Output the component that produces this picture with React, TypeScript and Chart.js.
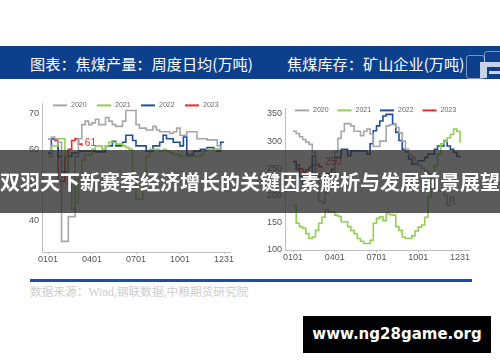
import React, { useEffect, useRef } from "react";
import { Chart, registerables } from "chart.js";
Chart.register(...registerables);

const YEARS = ["2020", "2021", "2022", "2023"];
const COLORS = ["#a6a6a6", "#92d050", "#1f4e9c", "#f02828"];
const X_TICKS = [0, 13, 26, 39, 52];
const X_LABELS = ["0101", "0401", "0701", "1001", "1231"];

// 焦煤产量：周度日均(万吨)
const LEFT_2020 = [63, 63.5, 63, 62, 34, 34, 41, 41, 58, 63, 67, 68, 67, 67.5, 68.5, 67, 67, 69, 68, 67, 66.5, 66.5, 68, 71, 71, 71, 67, 66, 66, 65.5, 65.5, 66.5, 65.5, 65, 65, 65, 64.5, 65, 66, 64, 64, 65, 65, 65, 63, 63, 63, 62.7, 62.7, 62.7, 61, 60];
const LEFT_2021 = [58, 61, 61, 63, 63, 58, 50, 43, 45, 52, 57, 58.5, 58.5, 60, 61, 61, 60, 61, 62, 62, 61.5, 61.5, 61, 60.5, 60, 52, 46, 46, 50, 58, 60, 60, 60, 59.5, 60, 59.5, 59, 58.5, 58.5, 58, 58, 58, 58, 58, 58, 58.5, 59.5, 60, 60, 60, 60, 60];
const LEFT_2022 = [59, 63, 63, 58, 53.5, 53.5, 58, 59, 59, 59.5, 59.5, 59.5, 59.5, 59.5, 59.3, 59.3, 59.3, 61, 61, 62.3, 61, 61, 62, 64, 64, 62.5, 61, 61, 61, 59.5, 59.5, 61, 61, 62, 64, 63, 63, 62, 62, 61, 63.5, 58.5, 58.5, 59.5, 59.5, 60, 60, 60.5, 60.5, 60, 59.5, 62, 62];
const LEFT_2023 = [63, 63, 62.5, 51, 51, 58, 60, 62.5, 63, 61.5, 61];
const LEFT_Y_TICKS = [40, 50, 60, 70];
const LEFT_LAST = "61";

// 焦煤库存：矿山企业(万吨)
const RIGHT_2020 = [318, 314, 308, 303, 298, 294, 280, 230, 190, 186, 205, 215, 240, 280, 305, 318, 332, 332, 328, 318, 318, 310, 318, 322, 313, 290, 290, 300, 300, 328, 330, 330, 325, 315, 300, 285, 275, 270, 262, 255, 250, 245, 240, 234, 215, 209, 209, 200, 182, 197, 185, 185];
const RIGHT_2021 = [182, 149, 143, 140, 130, 121, 124, 136, 149, 160, 174, 170, 170, 164, 162, 152, 152, 143, 136, 130, 121, 116, 112, 112, 118, 149, 158, 161, 154, 167, 165, 164, 143, 136, 124, 121, 121, 126, 135, 142, 146, 160, 197, 234, 255, 276, 295, 300, 306, 312, 322, 318, 297];
const RIGHT_2022 = [262, 248, 235, 215, 215, 240, 273, 240, 234, 234, 240, 240, 248, 270, 270, 285, 285, 273, 282, 282, 282, 282, 282, 276, 295, 319, 328, 337, 346, 349, 349, 331, 316, 301, 285, 280, 267, 258, 258, 264, 264, 270, 276, 276, 285, 291, 291, 301, 291, 285, 279, 272, 270];
const RIGHT_2023 = [263, 256, 249, 243, 247, 252, 256, 258, 253, 250];
const RIGHT_Y_TICKS = [100, 150, 200, 250, 300, 350];
const RIGHT_LAST = "250";

const NARROW = '"Liberation Sans Narrow", "Arial Narrow", Arial, sans-serif';
const CJK = '"Noto Sans CJK SC", "Noto Sans", sans-serif';

const inlineLegend = {
  id: "inlineLegend",
  afterDraw(chart: any, _a: any, opts: any) {
    const { ctx, chartArea } = chart;
    const ds = chart.data.datasets;
    let x = chartArea.left + opts.offset;
    const y = chartArea.top + opts.dy;
    ctx.save();
    ds.forEach((d: any) => {
      ctx.strokeStyle = d.borderColor;
      ctx.lineWidth = 2;
      ctx.beginPath();
      ctx.moveTo(x, y);
      ctx.lineTo(x + 14, y);
      ctx.stroke();
      ctx.fillStyle = "#666";
      ctx.font = "7px " + NARROW;
      ctx.textBaseline = "middle";
      ctx.textAlign = "left";
      ctx.fillText(d.label, x + 18, y);
      x += opts.step;
    });
    ctx.restore();
  },
};

const lastLabel = {
  id: "lastLabel",
  afterDatasetsDraw(chart: any, _a: any, opts: any) {
    const meta = chart.getDatasetMeta(3);
    const pts = meta.data;
    if (!pts.length) return;
    const p = pts[pts.length - 1];
    const { ctx } = chart;
    ctx.save();
    ctx.fillStyle = COLORS[3];
    ctx.font = "10px " + NARROW;
    ctx.textBaseline = "middle";
    ctx.textAlign = "left";
    ctx.fillText(opts.text, p.x + opts.dx, p.y + opts.dy);
    ctx.restore();
  },
};

type CP = {
  series: number[][];
  left: number; top: number; width: number; height: number;
  padTop: number; yWidth: number;
  xMin: number; xMax: number; yMin: number; yMax: number; yTicks: number[];
  legendOffset: number; legendStep: number;
  label: string; labelDx: number; labelDy: number;
};

function LineChart(p: CP) {
  const ref = useRef<HTMLCanvasElement>(null);
  useEffect(() => {
    const chart = new Chart(ref.current as HTMLCanvasElement, {
      type: "line",
      data: {
        datasets: p.series.map((arr, k) => ({
          label: YEARS[k],
          data: arr.map((v, i) => ({ x: i, y: v })),
          borderColor: COLORS[k],
          backgroundColor: COLORS[k],
          borderWidth: 1.6,
          pointRadius: 0,
          stepped: true,
          fill: false,
        })),
      },
      options: {
        animation: false,
        responsive: false,
        layout: { padding: { top: p.padTop, right: 6, left: 0, bottom: 0 } },
        plugins: {
          legend: { display: false },
          tooltip: { enabled: false },
          inlineLegend: { offset: p.legendOffset, step: p.legendStep, dy: 2 },
          lastLabel: { text: p.label, dx: p.labelDx, dy: p.labelDy },
        } as any,
        scales: {
          x: {
            type: "linear",
            min: p.xMin,
            max: p.xMax,
            afterBuildTicks: (s: any) => { s.ticks = X_TICKS.map((v) => ({ value: v })); },
            afterFit: (s: any) => { s.height = 15; },
            ticks: {
              autoSkip: false,
              maxRotation: 0,
              padding: 0,
              color: "#555",
              font: { size: 9, family: NARROW },
              callback: (v: any) => X_LABELS[X_TICKS.indexOf(Number(v))] ?? "",
            },
            grid: { display: true, drawOnChartArea: false, tickLength: 2, color: "#bfbfbf" },
            border: { display: true, color: "#bfbfbf" },
          },
          y: {
            type: "linear",
            min: p.yMin,
            max: p.yMax,
            afterBuildTicks: (s: any) => { s.ticks = p.yTicks.map((v) => ({ value: v })); },
            afterFit: (s: any) => { s.width = p.yWidth; },
            ticks: { padding: 3, color: "#555", font: { size: 9, family: NARROW } },
            grid: { display: false, drawTicks: false, tickLength: 0 },
            border: { display: true, color: "#bfbfbf" },
          },
        },
      },
      plugins: [inlineLegend, lastLabel],
    } as any);
    return () => chart.destroy();
  }, []);
  return (
    <canvas
      ref={ref}
      width={p.width}
      height={p.height}
      style={{ position: "absolute", left: p.left, top: p.top, width: p.width, height: p.height }}
    />
  );
}

export default function App() {
  return (
    <div style={{ position: "fixed", left: 0, top: 0, width: 500, height: 362, background: "#fff", overflow: "hidden" }}>
      <div style={{ position: "absolute", left: 0, top: 46, width: 500, height: 33, background: "#0c3f8c" }} />
      <div style={{ position: "absolute", left: 30, top: 52, height: 22, lineHeight: "22px", color: "#fff", fontFamily: CJK, fontSize: 15.2, whiteSpace: "nowrap" }}>
        图表：焦煤产量：周度日均(万吨)
      </div>
      <div style={{ position: "absolute", left: 287, top: 52, height: 22, lineHeight: "22px", color: "#fff", fontFamily: CJK, fontSize: 15.2, whiteSpace: "nowrap" }}>
        焦煤库存：矿山企业(万吨)
      </div>
      <div style={{ position: "absolute", left: 466, top: 55, width: 17, height: 22, border: "1px solid rgba(255,255,255,0.45)", borderRadius: 3 }} />
      <div style={{ position: "absolute", left: 484, top: 51, width: 18, height: 13, border: "1px solid rgba(255,255,255,0.45)", borderRadius: 3 }} />
      <div style={{ position: "absolute", left: 480, top: 63, width: 7, height: 15, background: "#c9d3e8" }} />
      <div style={{ position: "absolute", left: 480, top: 62, width: 20, height: 5, background: "#c9d3e8" }} />
      <div style={{ position: "absolute", left: 489, top: 71, width: 11, height: 3, background: "#c9d3e8" }} />

      <LineChart
        series={[LEFT_2020, LEFT_2021, LEFT_2022, LEFT_2023]}
        left={22} top={95} width={214} height={172}
        padTop={6} yWidth={20}
        xMin={-1.773} xMax={53.77} yMin={31} yMax={73} yTicks={LEFT_Y_TICKS}
        legendOffset={11} legendStep={44}
        label={LEFT_LAST} labelDx={3} labelDy={-3}
      />
      <LineChart
        series={[RIGHT_2020, RIGHT_2021, RIGHT_2022, RIGHT_2023]}
        left={262} top={100} width={213} height={165}
        padTop={7.5} yWidth={23}
        xMin={-2.491} xMax={54.8} yMin={100} yMax={360} yTicks={RIGHT_Y_TICKS}
        legendOffset={10} legendStep={42.5}
        label={RIGHT_LAST} labelDx={3} labelDy={-6}
      />

      <div style={{ position: "absolute", left: 30, top: 279, width: 442, height: 2.5, background: "#1f4e9c" }} />
      <div style={{ position: "absolute", left: 30, top: 285, height: 16, lineHeight: "16px", color: "#cdcdcd", fontFamily: '"Liberation Serif", "Noto Sans CJK SC", serif', fontSize: 11.7, whiteSpace: "nowrap" }}>
        数据来源：Wind,钢联数据,中粮期货研究院
      </div>

      <div style={{ position: "absolute", left: 0, top: 150, width: 500, height: 63, background: "rgba(45,45,45,0.78)" }} />
      <div style={{ position: "absolute", left: 0, top: 150, width: 500, height: 63, lineHeight: "63px", textAlign: "center", color: "#fff", fontFamily: CJK, fontWeight: 700, fontSize: 20, whiteSpace: "nowrap" }}>
        双羽天下新赛季经济增长的关键因素解析与发展前景展望
      </div>

      <div style={{ position: "absolute", left: 303, top: 316, width: 188, height: 37, lineHeight: "37px", background: "#000", color: "#fff", textAlign: "center", fontFamily: '"DejaVu Sans", sans-serif', fontWeight: 700, fontSize: 15, whiteSpace: "nowrap" }}>
        www.ng28game.org
      </div>
    </div>
  );
}
